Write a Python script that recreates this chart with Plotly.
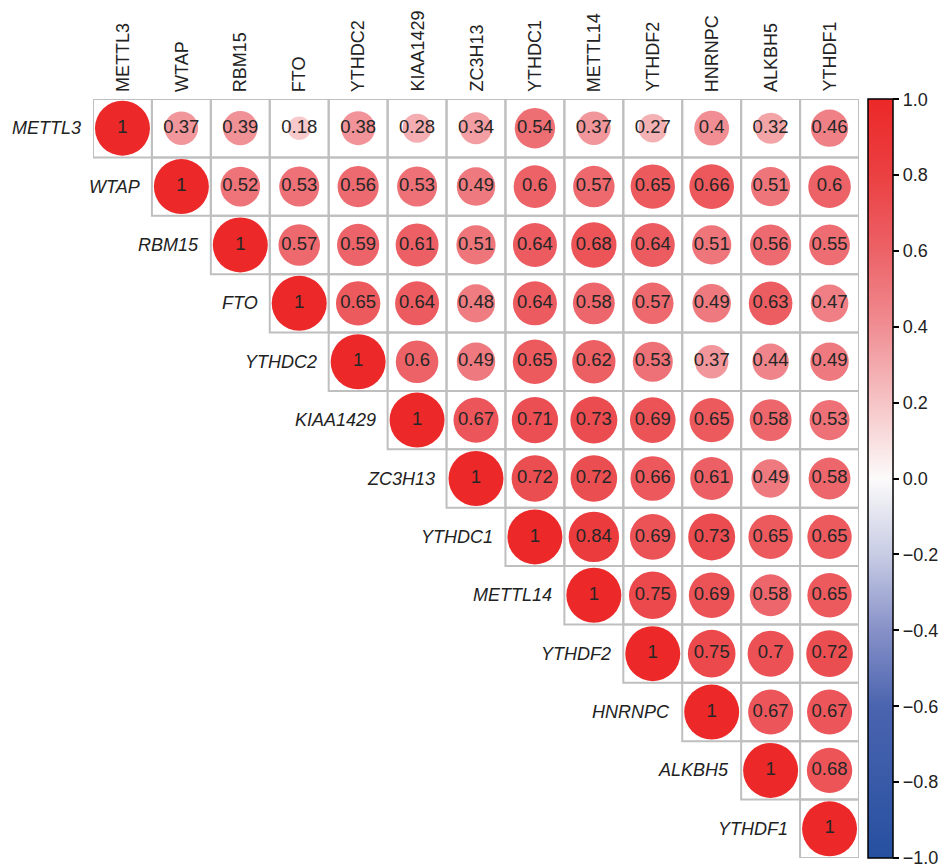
import plotly.graph_objects as go
import math

genes = ["METTL3", "WTAP", "RBM15", "FTO", "YTHDC2", "KIAA1429", "ZC3H13",
         "YTHDC1", "METTL14", "YTHDF2", "HNRNPC", "ALKBH5", "YTHDF1"]

# upper-triangle correlation rows (starting at the diagonal)
r_METTL3 = [1, 0.37, 0.39, 0.18, 0.38, 0.28, 0.34, 0.54, 0.37, 0.27, 0.4, 0.32, 0.46]
r_WTAP = [1, 0.52, 0.53, 0.56, 0.53, 0.49, 0.6, 0.57, 0.65, 0.66, 0.51, 0.6]
r_RBM15 = [1, 0.57, 0.59, 0.61, 0.51, 0.64, 0.68, 0.64, 0.51, 0.56, 0.55]
r_FTO = [1, 0.65, 0.64, 0.48, 0.64, 0.58, 0.57, 0.49, 0.63, 0.47]
r_YTHDC2 = [1, 0.6, 0.49, 0.65, 0.62, 0.53, 0.37, 0.44, 0.49]
r_KIAA1429 = [1, 0.67, 0.71, 0.73, 0.69, 0.65, 0.58, 0.53]
r_ZC3H13 = [1, 0.72, 0.72, 0.66, 0.61, 0.49, 0.58]
r_YTHDC1 = [1, 0.84, 0.69, 0.73, 0.65, 0.65]
r_METTL14 = [1, 0.75, 0.69, 0.58, 0.65]
r_YTHDF2 = [1, 0.75, 0.7, 0.72]
r_HNRNPC = [1, 0.67, 0.67]
r_ALKBH5 = [1, 0.68]
r_YTHDF1 = [1]

rows = [r_METTL3, r_WTAP, r_RBM15, r_FTO, r_YTHDC2, r_KIAA1429, r_ZC3H13,
        r_YTHDC1, r_METTL14, r_YTHDF2, r_HNRNPC, r_ALKBH5, r_YTHDF1]

cbar_ticks = [-1.0, -0.8, -0.6, -0.4, -0.2, 0.0, 0.2, 0.4, 0.6, 0.8, 1.0]

n = len(genes)
FONT = "Liberation Sans, Arial, Helvetica, sans-serif"
MAX_D = 55

xs, ys, vals, sizes, texts = [], [], [], [], []
for i, row in enumerate(rows):
    for k, v in enumerate(row):
        j = i + k
        xs.append(j)
        ys.append(i)
        vals.append(v)
        sizes.append(MAX_D * math.sqrt(abs(v)))
        texts.append(f"{v:g}")

colorscale = [
    [0.0, "rgb(38,80,160)"],
    [0.2, "rgb(75,100,175)"],
    [0.3, "rgb(135,145,200)"],
    [0.4, "rgb(200,204,228)"],
    [0.5, "rgb(252,250,250)"],
    [0.6, "rgb(246,196,198)"],
    [0.7, "rgb(240,142,147)"],
    [0.8, "rgb(236,98,103)"],
    [0.9, "rgb(235,64,66)"],
    [1.0, "rgb(236,40,40)"],
]

fig = go.Figure()

# cell borders
shapes = []
for i, row in enumerate(rows):
    for k in range(len(row)):
        j = i + k
        shapes.append(dict(type="rect", xref="x", yref="y",
                           x0=j - 0.5, x1=j + 0.5, y0=i - 0.5, y1=i + 0.5,
                           line=dict(color="#BFBFBF", width=2), fillcolor="rgba(0,0,0,0)",
                           layer="below"))

tickvals = [t if abs(t) < 1 else t * 0.999 for t in cbar_ticks]
ticktext = [f"{t:.1f}".replace("-", "\u2212") for t in cbar_ticks]

fig.add_trace(go.Scatter(
    x=xs, y=ys,
    mode="markers+text",
    text=texts, textposition="middle center",
    textfont=dict(family=FONT, size=18.5, color="#262626"),
    marker=dict(size=sizes, color=vals, colorscale=colorscale, cmin=-1, cmax=1,
                opacity=1, line=dict(width=0),
                colorbar=dict(
                    x=1.012, xanchor="left", xref="paper", y=0.5, yanchor="middle",
                    len=1.0, lenmode="fraction", thickness=25, xpad=0, ypad=0,
                    outlinecolor="black", outlinewidth=1.5,
                    tickmode="array", tickvals=tickvals, ticktext=ticktext,
                    ticks="outside", ticklen=6, tickcolor="black",
                    tickwidth=1.5, ticklabeloverflow="allow",
                    tickfont=dict(family=FONT, size=18, color="#222"),
                )),
    hoverinfo="skip", showlegend=False,
))

annotations = []
for i, g in enumerate(genes):
    annotations.append(dict(x=i - 0.5, y=i, xref="x", yref="y", text="<i>" + g + "</i>",
                            showarrow=False, xanchor="right", yanchor="middle",
                            xshift=-10,
                            font=dict(family=FONT, size=18, color="#222")))
    annotations.append(dict(x=i, y=-0.5, xref="x", yref="y", text=g,
                            showarrow=False, textangle=-90, xanchor="center",
                            yanchor="bottom", yshift=5,
                            font=dict(family=FONT, size=18, color="#222")))

fig.update_layout(
    width=950, height=866,
    margin=dict(l=93, r=91, t=99, b=8, autoexpand=False),
    paper_bgcolor="white", plot_bgcolor="white",
    xaxis=dict(range=[-0.5, n - 0.5], showgrid=False, zeroline=False,
               showticklabels=False, ticks="", fixedrange=True),
    yaxis=dict(range=[n - 0.5, -0.5], showgrid=False, zeroline=False,
               showticklabels=False, ticks="", fixedrange=True),
    shapes=shapes, annotations=annotations,
)

fig.write_html("out.html")
